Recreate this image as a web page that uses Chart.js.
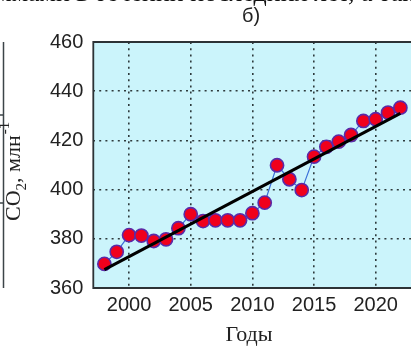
<!DOCTYPE html>
<html>
<head>
<meta charset="utf-8">
<script src="https://cdn.jsdelivr.net/npm/chart.js@4/dist/chart.umd.min.js"></script>
<style>
  html, body { margin: 0; padding: 0; background: #fff; overflow: hidden; width: 411px; height: 349px; }
  canvas { display: block; }
</style>
</head>
<body>
<canvas id="c" width="440" height="349"></canvas>
<script>
// Annual mean CO2 concentration, ppm
const years = [1998, 1999, 2000, 2001, 2002, 2003, 2004, 2005, 2006, 2007, 2008, 2009, 2010,
               2011, 2012, 2013, 2014, 2015, 2016, 2017, 2018, 2019, 2020, 2021, 2022];
const co2 = [369.8, 374.7, 381.5, 381.3, 379.1, 379.8, 384.3, 390.0, 387.2, 387.5, 387.5, 387.5, 390.4,
             394.7, 409.9, 404.2, 399.8, 413.4, 417.4, 419.5, 422.2, 427.9, 428.6, 431.3, 433.3];
// Linear trend end points
const trendYears = [1998, 2022];
const trendCO2 = [367.5, 431.0];
// Axis ticks
const xTicks = [2000, 2005, 2010, 2015, 2020];
const yTicks = [360, 380, 400, 420, 440, 460];

const pts = (xs, ys) => xs.map((x, i) => ({ x: x, y: ys[i] }));

const AREA = { left: 93.3, right: 412.7, top: 42, bottom: 288 };
const CANVAS_W = 440;
const GRID_COLOR = '#2e3a3c';
const GRID_DASH = [2, 4.2];

const decor = {
  id: 'decor',
  beforeDraw(chart) {
    const { ctx, chartArea: a } = chart;
    ctx.save();
    ctx.fillStyle = '#cbf4fb';
    ctx.fillRect(a.left, a.top, a.right - a.left, a.bottom - a.top);
    ctx.restore();
  },
  afterDraw(chart) {
    const { ctx, chartArea: a } = chart;
    ctx.save();
    // plot frame
    ctx.strokeStyle = '#2c3236';
    ctx.lineWidth = 1.8;
    ctx.beginPath();
    ctx.moveTo(a.right + 5, a.top);
    ctx.lineTo(a.left, a.top);
    ctx.lineTo(a.left, a.bottom);
    ctx.lineTo(a.right + 5, a.bottom);
    ctx.stroke();

    // edge of the neighbouring panel
    ctx.strokeStyle = '#3c4448';
    ctx.lineWidth = 1.5;
    ctx.beginPath();
    ctx.moveTo(3.5, a.top);
    ctx.lineTo(3.5, a.bottom);
    ctx.moveTo(0, 115); ctx.lineTo(3.5, 115);
    ctx.moveTo(0, 203); ctx.lineTo(3.5, 203);
    ctx.stroke();

    // running text line above the figure (only its lower edge shows)
    ctx.fillStyle = '#111';
    ctx.font = '26px "Liberation Serif", serif';
    ctx.textAlign = 'left';
    ctx.textBaseline = 'bottom';
    ctx.fillText('граммами в течении последних лет, а также', -40, 7);

    // panel title
    ctx.fillStyle = '#222';
    ctx.font = '20px "Liberation Sans", Arial, sans-serif';
    ctx.textAlign = 'center';
    ctx.textBaseline = 'middle';
    ctx.fillText('б)', 251, 16);

    // x axis title
    ctx.font = '22px "Liberation Serif", serif';
    ctx.textBaseline = 'alphabetic';
    ctx.fillText('Годы', 249, 341);

    // y axis title: CO2, млн^-1
    ctx.translate(20, 221);
    ctx.rotate(-Math.PI / 2);
    ctx.textAlign = 'left';
    let x = 0;
    const big = '22px "Liberation Serif", serif';
    const small = '15px "Liberation Serif", serif';
    ctx.font = big; ctx.fillText('CO', x, 0); x += ctx.measureText('CO').width;
    ctx.font = small; ctx.fillText('2', x, 6); x += ctx.measureText('2').width;
    ctx.font = big; ctx.fillText(', млн', x, 0); x += ctx.measureText(', млн').width;
    ctx.font = small; ctx.fillText('-1', x + 1, -11);
    ctx.restore();
  }
};

new Chart(document.getElementById('c'), {
  type: 'scatter',
  data: {
    datasets: [
      {
        label: 'Тренд',
        data: pts(trendYears, trendCO2),
        showLine: true,
        borderColor: '#000',
        borderWidth: 3,
        pointRadius: 0,
        order: 0
      },
      {
        label: 'CO2',
        data: pts(years, co2),
        showLine: true,
        borderColor: '#3a6fd8',
        borderWidth: 1.2,
        pointRadius: 6.6,
        pointBackgroundColor: '#f0001c',
        pointBorderColor: '#5a2aa8',
        pointBorderWidth: 1.6,
        order: 1
      }
    ]
  },
  options: {
    responsive: false,
    animation: false,
    devicePixelRatio: 1,
    layout: { padding: { top: AREA.top, left: 0, right: CANVAS_W - AREA.right, bottom: 0 } },
    plugins: { legend: { display: false }, tooltip: { enabled: false } },
    scales: {
      x: {
        type: 'linear',
        min: 1997.1,
        max: 2023,
        afterBuildTicks(s) { s.ticks = xTicks.map(v => ({ value: v })); },
        afterFit(s) { s.height = 349 - AREA.bottom; },
        border: { display: false, dash: GRID_DASH },
        grid: { color: GRID_COLOR, lineWidth: 1.6, drawTicks: false },
        ticks: {
          padding: 5,
          color: '#222',
          font: { family: '"Liberation Sans", Arial, sans-serif', size: 20 },
          maxRotation: 0,
          callback: v => String(v)
        }
      },
      y: {
        min: 360,
        max: 460,
        afterBuildTicks(s) { s.ticks = yTicks.map(v => ({ value: v })); },
        afterFit(s) { s.width = AREA.left; },
        border: { display: false, dash: GRID_DASH },
        grid: {
          color: c => (c.tick && (c.tick.value === 360 || c.tick.value === 460)) ? 'rgba(0,0,0,0)' : GRID_COLOR,
          lineWidth: 1.6,
          drawTicks: false
        },
        ticks: {
          padding: 10,
          color: '#222',
          font: { family: '"Liberation Sans", Arial, sans-serif', size: 20 },
          callback: v => String(v)
        }
      }
    }
  },
  plugins: [decor]
});
</script>
</body>
</html>
